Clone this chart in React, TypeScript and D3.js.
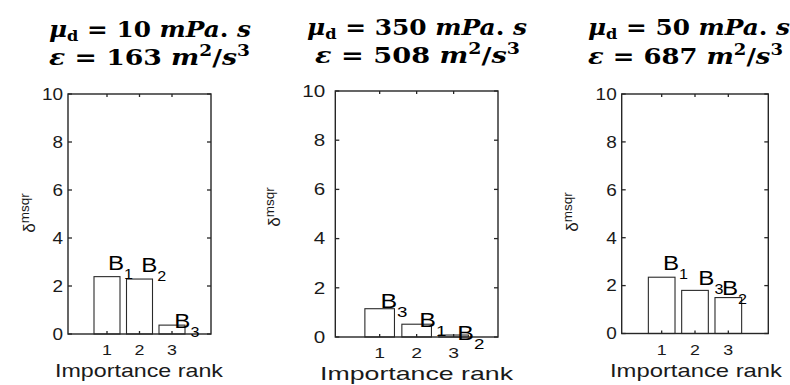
import React from "react";
import * as d3 from "d3";

// ---- data ----
const ranks = [1, 2, 3];
const yTicks = [0, 2, 4, 6, 8, 10];
const muValues = ["10", "350", "50"];
const epsValues = ["163", "508", "687"];
const deltaP1 = [2.39, 2.29, 0.37];
const deltaP2 = [1.15, 0.52, 0.08];
const deltaP3 = [2.35, 1.8, 1.5];
const subsP1 = ["1", "2", "3"];
const subsP2 = ["3", "1", "2"];
const subsP3 = ["1", "3", "2"];
const labelXP1 = [1.03, 2.05, 3.07];
const labelYP1 = [2.67, 2.58, 0.25];
const labelXP2 = [1.02, 2.07, 3.1];
const labelYP2 = [1.17, 0.42, -0.12];
const labelXP3 = [1.04, 2.1, 2.81];
const labelYP3 = [2.65, 2.02, 1.6];
const xLabel = "Importance rank";
const xDomain = [-0.2, 4.2];
const yDomain = [0, 10];

const panelValues = [deltaP1, deltaP2, deltaP3];
const panelSubs = [subsP1, subsP2, subsP3];
const panelLX = [labelXP1, labelXP2, labelXP3];
const panelLY = [labelYP1, labelYP2, labelYP3];

// ---- layout ----
const layout = [
  { x0: 68, x1: 211, y0: 334, y1: 94, tX1: 49, tX2: 49, tW1: 202, tW2: 201, tb1: 37, tb2: 65, xlabX: 55, xlabW: 168, xlabB: 377, tickB: 355, ylabX: 35, ylabCY: 213, yGap: 5, bFont: 21, sFont: 14, sx: 1.15 },
  { x0: 335.3, x1: 498, y0: 337, y1: 91, tX1: 307, tX2: 315, tW1: 220, tW2: 205, tb1: 35, tb2: 63, xlabX: 320, xlabW: 193, xlabB: 380, tickB: 358, ylabX: 280, ylabCY: 207, yGap: 10, bFont: 20, sFont: 15, sx: 1.25 },
  { x0: 621.7, x1: 768.3, y0: 333.5, y1: 94, tX1: 588, tX2: 588, tW1: 202, tW2: 195, tb1: 35, tb2: 64, xlabX: 610, xlabW: 172, xlabB: 377, tickB: 355, ylabX: 578, ylabCY: 212, yGap: 5, bFont: 21, sFont: 14, sx: 1.15 },
];

const SANS = "'Liberation Sans', Arial, sans-serif";
const SERIF = "'DejaVu Serif', serif";
const AX = "#262626";

function Panel({ i }: { i: number }) {
  const L = layout[i];
  const x = d3.scaleLinear().domain(xDomain).range([L.x0, L.x1]);
  const y = d3.scaleLinear().domain(yDomain).range([L.y0, L.y1]);
  const vals = panelValues[i];
  return (
    <g>
      {/* titles */}
      <text x={L.tX1} y={L.tb1} textLength={L.tW1} lengthAdjust="spacingAndGlyphs" fontFamily={SERIF} fontWeight="bold" fontSize={23} fill="#000">
        <tspan fontStyle="italic">μ</tspan>
        <tspan fontSize={15} dy={4}>d</tspan>
        <tspan dy={-4}>{` = ${muValues[i]} `}</tspan>
        <tspan fontStyle="italic">mPa</tspan>
        <tspan>.</tspan>
        <tspan fontStyle="italic"> s</tspan>
      </text>
      <text x={L.tX2} y={L.tb2} textLength={L.tW2} lengthAdjust="spacingAndGlyphs" fontFamily={SERIF} fontWeight="bold" fontSize={23} fill="#000">
        <tspan fontStyle="italic">ε</tspan>
        <tspan>{` = ${epsValues[i]} `}</tspan>
        <tspan fontStyle="italic">m</tspan>
        <tspan fontSize={16} dy={-9}>2</tspan>
        <tspan dy={9}>/</tspan>
        <tspan fontStyle="italic">s</tspan>
        <tspan fontSize={16} dy={-9}>3</tspan>
      </text>

      {/* bars */}
      {ranks.map((r, k) => (
        <rect key={"b" + k} x={x(r - 0.4)} y={y(vals[k])} width={x(r + 0.4) - x(r - 0.4)} height={y(0) - y(vals[k])} fill="#fff" stroke="#2a2a2a" strokeWidth={1.1} />
      ))}

      {/* axes box */}
      <rect x={L.x0} y={L.y1} width={L.x1 - L.x0} height={L.y0 - L.y1} fill="none" stroke={AX} strokeWidth={1.4} />
      {yTicks.map((t) => (
        <g key={"yt" + t}>
          <line x1={L.x0} x2={L.x0 + 4} y1={y(t)} y2={y(t)} stroke={AX} strokeWidth={1.3} />
          <line x1={L.x1} x2={L.x1 - 4} y1={y(t)} y2={y(t)} stroke={AX} strokeWidth={1.3} />
          <text transform={`translate(${L.x0 - L.yGap},${y(t) + 5.8}) scale(${L.sx},1)`} textAnchor="end" fontFamily={SANS} fontSize={16.5} fill="#1a1a1a">{t}</text>
        </g>
      ))}
      {ranks.map((r) => (
        <g key={"xt" + r}>
          <line x1={x(r)} x2={x(r)} y1={L.y0} y2={L.y0 - 3} stroke={AX} strokeWidth={1.3} />
          <line x1={x(r)} x2={x(r)} y1={L.y1} y2={L.y1 + 3} stroke={AX} strokeWidth={1.3} />
          <text transform={`translate(${x(r)},${L.tickB}) scale(${L.sx},1)`} textAnchor="middle" fontFamily={SANS} fontSize={15.5} fill="#1a1a1a">{r}</text>
        </g>
      ))}

      {/* bar labels */}
      {ranks.map((r, k) => (
        <text key={"l" + k} transform={`translate(${x(panelLX[i][k])},${y(panelLY[i][k])}) scale(${L.sx},1)`} fontFamily={SANS} fontSize={L.bFont} fill="#000">
          B<tspan fontSize={L.sFont} dy={9}>{panelSubs[i][k]}</tspan>
        </text>
      ))}

      {/* axis labels */}
      <text x={L.xlabX} y={L.xlabB} textLength={L.xlabW} lengthAdjust="spacingAndGlyphs" fontFamily={SANS} fontSize={19} fill="#1a1a1a">{xLabel}</text>
      <text transform={`translate(${L.ylabX},${L.ylabCY}) rotate(-90)`} textAnchor="middle" fontFamily={SANS} fontSize={17} fill="#1a1a1a">
        δ<tspan fontSize={13.5} dy={-6}>msqr</tspan>
      </text>
    </g>
  );
}

export default function App() {
  return (
    <svg width={790} height={385} viewBox="0 0 790 385" style={{ position: "absolute", left: 0, top: 0, background: "#fff" }}>
      <rect x={0} y={0} width={790} height={385} fill="#fff" />
      {[0, 1, 2].map((i) => (
        <Panel key={i} i={i} />
      ))}
    </svg>
  );
}
